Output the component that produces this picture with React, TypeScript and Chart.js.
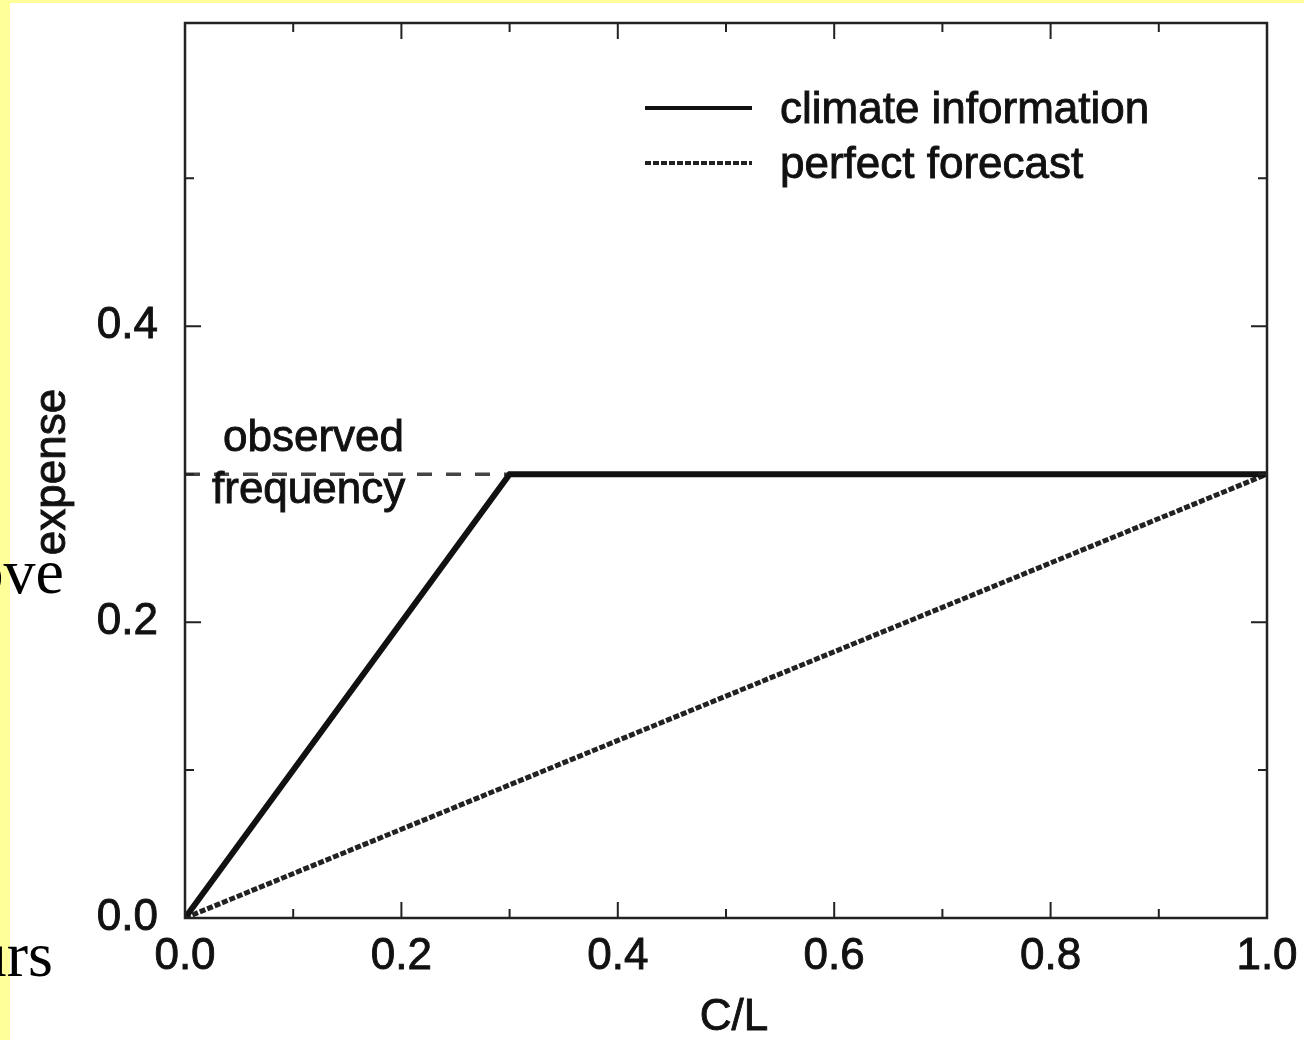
import React, { useEffect, useRef } from "react";
import { Chart, registerables } from "chart.js";

Chart.register(...registerables);

// ---- data ----
const climateX = [0, 0.3, 1.0];
const climateY = [0, 0.3, 0.3];
const perfectX = [0, 1.0];
const perfectY = [0, 0.3];
const observedX = [0, 0.3];
const observedY = [0.3, 0.3];

const seriesLabels = ["climate information", "perfect forecast", "observed frequency"];

const xTickValues = [0, 0.2, 0.4, 0.6, 0.8, 1.0];
const xMinorTicks = [0.1, 0.3, 0.5, 0.7, 0.9];
const yTickValues = [0, 0.2, 0.4];
const yMinorTicks = [0.1, 0.3, 0.5];
const xMajorInner = [0.2, 0.4, 0.6, 0.8];
const yMajorInner = [0.2, 0.4];

const xTitle = "C/L";
const yTitle = "expense";
const noteLines = ["observed", "frequency"];
const strayTexts = ["ove", "urs"];

const FONT = '"Liberation Sans", Arial, Helvetica, sans-serif';
const SERIF = '"Liberation Serif", "Times New Roman", serif';
const INK = "#111";

const toPts = (xs: number[], ys: number[]) => xs.map((x, i) => ({ x, y: ys[i] }));

const drawBoldText = (ctx: any, text: string, x: number, y: number) => {
  ctx.fillText(text, x, y);
  ctx.lineWidth = 0.9;
  ctx.strokeStyle = ctx.fillStyle;
  ctx.strokeText(text, x, y);
};

const decorPlugin = {
  id: "decor",
  beforeDraw(chart: any) {
    const ctx = chart.ctx;
    ctx.save();
    ctx.fillStyle = "#ffffff";
    ctx.fillRect(0, 0, chart.width, chart.height);
    // yellow slide border
    ctx.fillStyle = "#ffff99";
    ctx.fillRect(0, 0, chart.width, 3);
    ctx.fillRect(0, 0, 10, chart.height);
    ctx.restore();
  },
  afterDatasetsDraw(chart: any) {
    const ctx = chart.ctx;
    const xs = chart.scales.x;
    const ys = chart.scales.y;
    const { left, right, top, bottom } = chart.chartArea;
    ctx.save();
    // frame
    ctx.strokeStyle = "#222";
    ctx.lineWidth = 2.5;
    ctx.strokeRect(left, top, right - left, bottom - top);
    // ticks (inward, all four sides)
    ctx.lineWidth = 2;
    const tickX = (v: number, len: number) => {
      const px = xs.getPixelForValue(v);
      ctx.beginPath();
      ctx.moveTo(px, bottom);
      ctx.lineTo(px, bottom - len);
      ctx.moveTo(px, top);
      ctx.lineTo(px, top + len);
      ctx.stroke();
    };
    const tickY = (v: number, len: number) => {
      const py = ys.getPixelForValue(v);
      ctx.beginPath();
      ctx.moveTo(left, py);
      ctx.lineTo(left + len, py);
      ctx.moveTo(right, py);
      ctx.lineTo(right - len, py);
      ctx.stroke();
    };
    xMajorInner.forEach((v) => tickX(v, 16));
    xMinorTicks.forEach((v) => tickX(v, 9));
    yMajorInner.forEach((v) => tickY(v, 16));
    yMinorTicks.forEach((v) => tickY(v, 9));

    // annotation "observed frequency"
    ctx.fillStyle = INK;
    ctx.font = `44px ${FONT}`;
    ctx.textAlign = "left";
    ctx.textBaseline = "alphabetic";
    const yObs = ys.getPixelForValue(observedY[0]);
    drawBoldText(ctx, noteLines[0], left + 38, yObs - 23);
    drawBoldText(ctx, noteLines[1], left + 27, yObs + 29);

    // legend
    const ds = chart.data.datasets;
    const legendRows = [0, 1];
    legendRows.forEach((di, i) => {
      const d = ds[di];
      const ly = top + 85 + i * 55;
      ctx.save();
      ctx.strokeStyle = d.borderColor;
      ctx.lineWidth = 4;
      ctx.setLineDash(d.borderDash || []);
      ctx.beginPath();
      ctx.moveTo(left + 460, ly);
      ctx.lineTo(left + 567, ly);
      ctx.stroke();
      ctx.restore();
      ctx.fillStyle = INK;
      ctx.font = `44px ${FONT}`;
      ctx.textAlign = "left";
      ctx.textBaseline = "alphabetic";
      drawBoldText(ctx, d.label, left + 595, ly + 15);
    });

    // axis titles
    ctx.fillStyle = INK;
    ctx.font = `44px ${FONT}`;
    ctx.textAlign = "center";
    ctx.textBaseline = "alphabetic";
    drawBoldText(ctx, xTitle, 734, 1030);
    ctx.save();
    ctx.translate(65, 472);
    ctx.rotate(-Math.PI / 2);
    drawBoldText(ctx, yTitle, 0, 0);
    ctx.restore();

    // stray slide text fragments (serif), drawn over the yellow border
    ctx.font = `64px ${SERIF}`;
    ctx.fillStyle = "#000";
    ctx.textAlign = "right";
    ctx.fillText(strayTexts[0], 64, 593);
    ctx.fillText(strayTexts[1], 53, 976);
    ctx.restore();
  },
};

export default function App() {
  const ref = useRef<HTMLCanvasElement | null>(null);
  useEffect(() => {
    if (!ref.current) return;
    const chart = new Chart(ref.current, {
      type: "line",
      data: {
        datasets: [
          {
            label: seriesLabels[0],
            data: toPts(climateX, climateY),
            borderColor: "#111",
            borderWidth: 6,
            pointRadius: 0,
            fill: false,
            tension: 0,
          },
          {
            label: seriesLabels[1],
            data: toPts(perfectX, perfectY),
            borderColor: "#222",
            borderWidth: 5,
            borderDash: [6, 2],
            pointRadius: 0,
            fill: false,
            tension: 0,
          },
          {
            label: seriesLabels[2],
            data: toPts(observedX, observedY),
            borderColor: "#444",
            borderWidth: 3.5,
            borderDash: [15, 14],
            pointRadius: 0,
            fill: false,
            tension: 0,
          },
        ],
      },
      options: {
        responsive: false,
        animation: false,
        devicePixelRatio: 1,
        parsing: false as any,
        layout: { padding: { top: 23, right: 37, left: 0, bottom: 0 } },
        plugins: { legend: { display: false }, tooltip: { enabled: false } },
        scales: {
          x: {
            type: "linear",
            min: 0,
            max: 1,
            grid: { display: false, drawTicks: false },
            border: { display: false },
            afterBuildTicks: (s: any) => {
              s.ticks = xTickValues.map((v) => ({ value: v }));
            },
            afterFit: (s: any) => {
              s.height = 122;
              s.paddingLeft = 0;
              s.paddingRight = 0;
            },
            ticks: {
              padding: 12,
              color: INK,
              textStrokeColor: INK,
              textStrokeWidth: 0.9,
              font: { family: FONT, size: 44 },
              maxRotation: 0,
              autoSkip: false,
              callback: (v: any) => Number(v).toFixed(1),
            },
          },
          y: {
            type: "linear",
            min: 0,
            max: 0.605,
            grid: { display: false, drawTicks: false },
            border: { display: false },
            afterBuildTicks: (s: any) => {
              s.ticks = yTickValues.map((v) => ({ value: v }));
            },
            afterFit: (s: any) => {
              s.width = 185;
              s.paddingTop = 0;
              s.paddingBottom = 0;
            },
            ticks: {
              padding: 27,
              color: INK,
              textStrokeColor: INK,
              textStrokeWidth: 0.9,
              font: { family: FONT, size: 44 },
              autoSkip: false,
              callback: (v: any) => Number(v).toFixed(1),
            },
          },
        },
      },
      plugins: [decorPlugin],
    } as any);
    return () => chart.destroy();
  }, []);
  return (
    <div style={{ position: "fixed", left: 0, top: 0, width: 1304, height: 1040, background: "#fff" }}>
      <canvas ref={ref} width={1304} height={1040} style={{ display: "block" }} />
    </div>
  );
}
